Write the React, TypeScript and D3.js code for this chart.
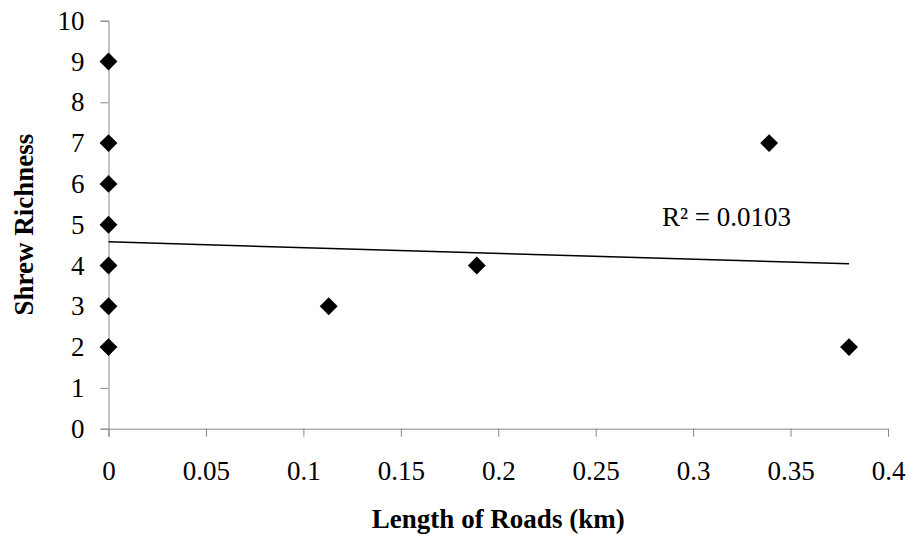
import React, { useEffect, useRef } from 'react';
import * as d3 from 'd3';

// road length (km) and shrew richness per site
const roadLength = [0, 0, 0, 0, 0, 0, 0, 0.113, 0.189, 0.339, 0.38];
const richness = [9, 7, 6, 5, 4, 3, 2, 3, 4, 7, 2];

const xTicks = [0, 0.05, 0.1, 0.15, 0.2, 0.25, 0.3, 0.35, 0.4];
const yTicks = [0, 1, 2, 3, 4, 5, 6, 7, 8, 9, 10];

// linear trendline as drawn in the original (Excel)
const trendIntercept = 4.58;
const trendSlope = -1.42;
const rSquaredLabel = 'R² = 0.0103';

const App = () => {
    const ref = useRef<SVGSVGElement | null>(null);

    useEffect(() => {
        if (!ref.current) return;
        const svg = d3.select(ref.current);
        svg.selectAll('*').remove();

        const width = 911;
        const height = 535;
        const margin = { left: 108.5, right: 23, top: 20.7, bottom: 106.3 };
        const font = '"Liberation Serif", "Times New Roman", serif';
        const axisColor = '#898989';
        const fontSize = 27;

        const x = d3.scaleLinear().domain([0, 0.4]).range([margin.left, width - margin.right]);
        const y = d3.scaleLinear().domain([0, 10]).range([height - margin.bottom, margin.top]);

        // x axis
        const gx = svg.append('g')
            .attr('transform', 'translate(0,' + y(0) + ')')
            .call(d3.axisBottom(x).tickValues(xTicks).tickSize(8).tickPadding(24).tickFormat((d) => String(d)));
        gx.select('.domain').attr('stroke', axisColor);
        gx.selectAll('.tick line').attr('stroke', axisColor);
        gx.selectAll('.tick text')
            .attr('font-family', font)
            .attr('font-size', fontSize)
            .attr('fill', '#000');

        // y axis
        const gy = svg.append('g')
            .attr('transform', 'translate(' + x(0) + ',0)')
            .call(d3.axisLeft(y).tickValues(yTicks).tickSize(8).tickPadding(16).tickFormat((d) => String(d)));
        gy.select('.domain').attr('stroke', axisColor);
        gy.selectAll('.tick line').attr('stroke', axisColor);
        gy.selectAll('.tick text')
            .attr('font-family', font)
            .attr('font-size', fontSize)
            .attr('fill', '#000');

        // trendline
        const xMax = d3.max(roadLength) as number;
        svg.append('line')
            .attr('x1', x(0))
            .attr('y1', y(trendIntercept))
            .attr('x2', x(xMax))
            .attr('y2', y(trendIntercept + trendSlope * xMax))
            .attr('stroke', '#000')
            .attr('stroke-width', 1.5);

        // points
        const diamond = d3.symbol().type(d3.symbolSquare).size(160);
        svg.append('g')
            .selectAll('path')
            .data(roadLength.map((v, i) => ({ x: v, y: richness[i] })))
            .join('path')
            .attr('d', diamond)
            .attr('transform', (d) => 'translate(' + x(d.x) + ',' + y(d.y) + ') rotate(45)')
            .attr('fill', '#000');

        svg.append('text')
            .attr('x', 662)
            .attr('y', 226)
            .attr('font-family', font)
            .attr('font-size', fontSize)
            .text(rSquaredLabel);

        // axis titles
        svg.append('text')
            .attr('x', (margin.left + width - margin.right) / 2)
            .attr('y', 528)
            .attr('text-anchor', 'middle')
            .attr('font-family', font)
            .attr('font-size', fontSize)
            .attr('font-weight', 'bold')
            .text('Length of Roads (km)');

        svg.append('text')
            .attr('transform', 'translate(33,' + y(5) + ') rotate(-90)')
            .attr('text-anchor', 'middle')
            .attr('font-family', font)
            .attr('font-size', fontSize)
            .attr('font-weight', 'bold')
            .text('Shrew Richness');
    }, []);

    return (
        <svg ref={ref} width={911} height={535}
            style={{ position: 'absolute', left: 0, top: 0, background: '#fff' }} />
    );
};

export default App;
